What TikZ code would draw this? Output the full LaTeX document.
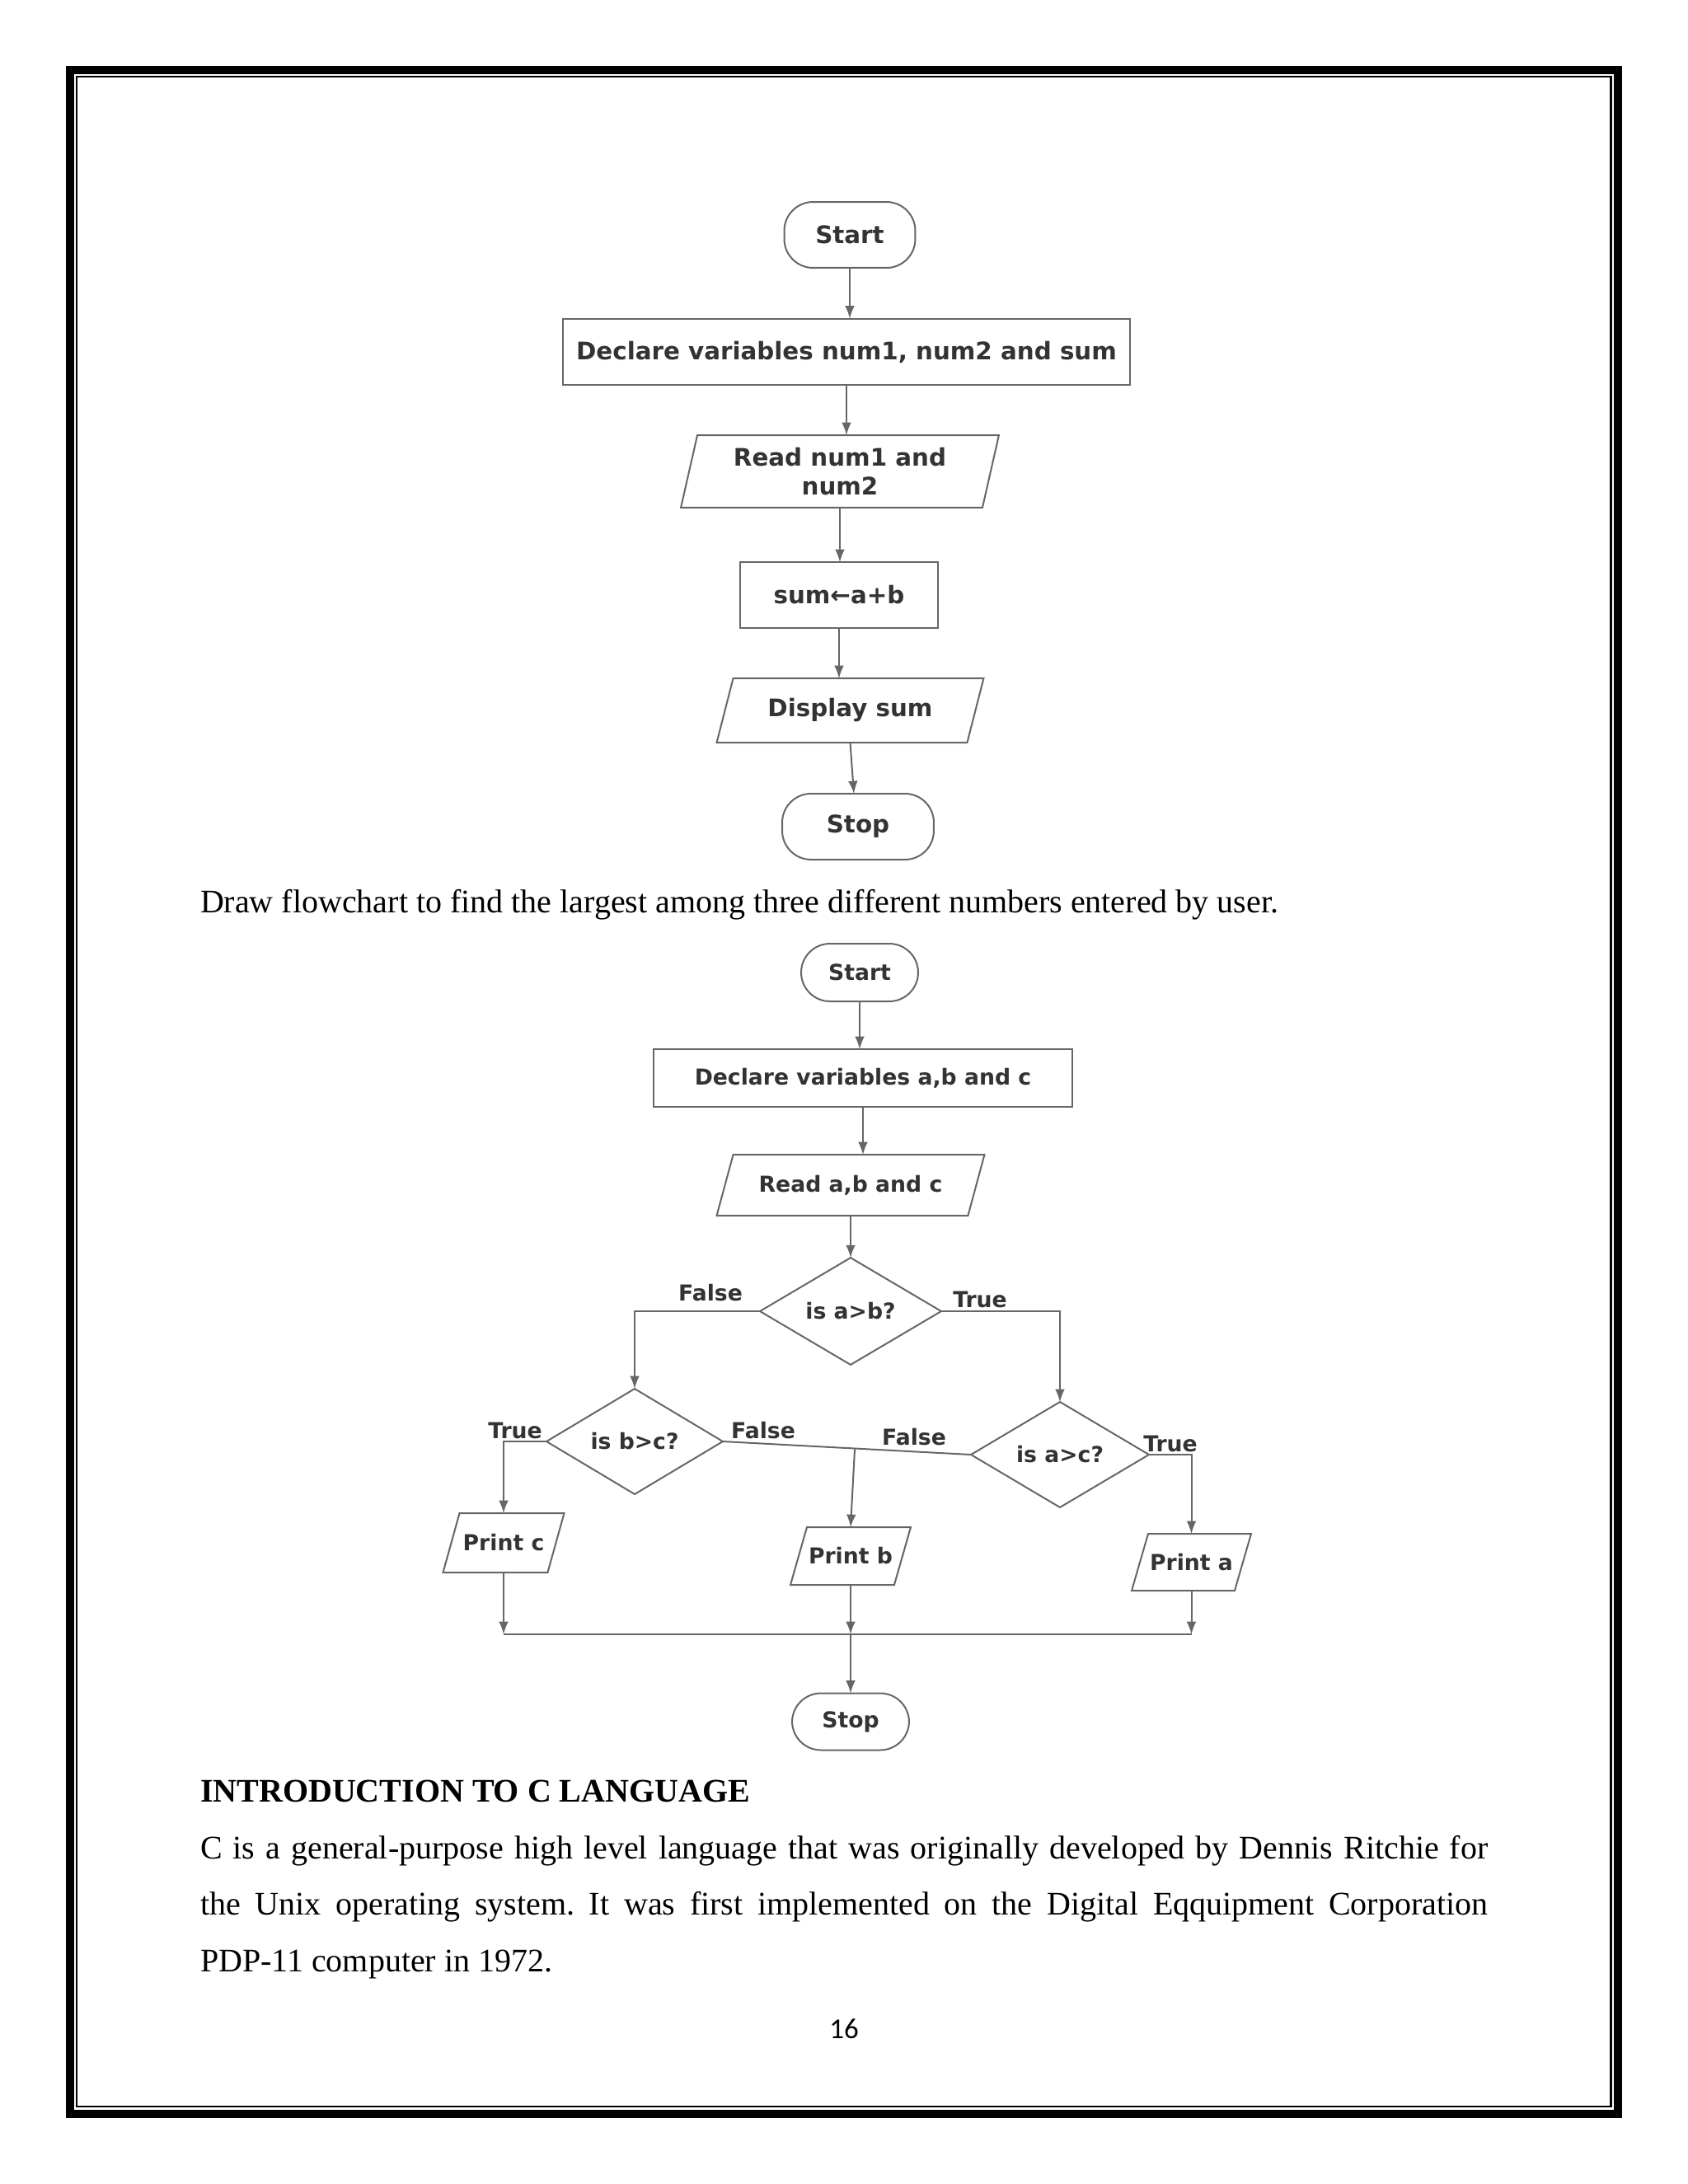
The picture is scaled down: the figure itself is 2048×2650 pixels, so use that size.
\documentclass[tikz,border=0pt]{standalone}
\usepackage{fontspec}
\setmainfont{Liberation Serif}
\newfontfamily\chartfont{DejaVu Sans}
\newfontfamily\pagenofont{Carlito}
\usetikzlibrary{shapes.geometric,calc}
\definecolor{linegray}{HTML}{666666}
\definecolor{chartgray}{HTML}{333333}
\newlength{\pxu}
\setlength{\pxu}{0.29988pt}
\frenchspacing

\begin{document}
\begin{tikzpicture}[>=latex, x=0.010542cm, y=-0.010542cm, line width=0.6pt,
    fcbox/.style={draw=linegray, text=chartgray, inner sep=0pt, outer sep=0pt, align=center},
    bigtxt/.style={font=\chartfont\bfseries\fontsize{8.8}{10.5}\selectfont},
    smalltxt/.style={font=\chartfont\bfseries\fontsize{8}{10}\selectfont},
    term/.style={fcbox, rectangle, rounded corners=10.5pt},
    proc/.style={fcbox, rectangle},
    io/.style={fcbox, rectangle, draw=none},
    cond/.style={fcbox, diamond},
    lbl/.style={text=chartgray, inner sep=0pt, smalltxt},
    conn/.style={draw=linegray, ->}]
    \useasboundingbox (0,0) rectangle (2048,2650);
    % page frame
    \draw[line width=3pt] (85,84.5) rectangle (1963,2565);
    \draw[line width=0.75pt] (93,93) rectangle (1954.5,2556);

    % flowchart: sum of two numbers
    \node[term, bigtxt, minimum width=159\pxu, minimum height=80\pxu] (start1) at (1031,285) {Start};
    \node[proc, bigtxt, minimum width=689\pxu, minimum height=81\pxu] (decl1) at (1027,427) {Declare variables num1, num2 and sum};
    \node[io, bigtxt, minimum width=366\pxu, minimum height=88\pxu] (read1) at (1019,572) {Read num1 and\\num2};
    \node[proc, bigtxt, minimum width=240\pxu, minimum height=80\pxu] (sum1) at (1018,722) {sum←a+b};
    \node[io, bigtxt, minimum width=304\pxu, minimum height=78\pxu] (disp1) at (1031.5,862) {Display sum};
    \node[term, bigtxt, minimum width=184\pxu, minimum height=80\pxu] (stop1) at (1041,1003) {Stop};
    \draw[conn] (start1) -- (start1 |- decl1.north);
    \draw[conn] (decl1) -- (decl1 |- read1.north);
    \draw[conn] (read1) -- (read1 |- sum1.north);
    \draw[conn] (sum1) -- (sum1 |- disp1.north);
    \draw[conn] (disp1.south) -- ([xshift=-5\pxu]stop1.north);

    \node[anchor=base west, inner sep=0pt, font=\fontsize{12}{14}\selectfont] (task) at (242,1107) {Draw flowchart to find the largest among three different numbers entered by user.};

    % flowchart: largest of three numbers
    \node[term, smalltxt, minimum width=142\pxu, minimum height=70\pxu] (start2) at (1043,1180) {Start};
    \node[proc, smalltxt, minimum width=509\pxu, minimum height=70\pxu] (decl2) at (1047,1308) {Declare variables a,b and c};
    \node[io, smalltxt, minimum width=305\pxu, minimum height=74\pxu] (read2) at (1032,1438) {Read a,b and c};
    \node[cond, smalltxt, minimum width=220\pxu, minimum height=128\pxu] (abc) at (1032,1591) {is a>b?};
    \node[cond, smalltxt, minimum width=214\pxu, minimum height=128\pxu] (bc) at (770,1749) {is b>c?};
    \node[cond, smalltxt, minimum width=216\pxu, minimum height=128\pxu] (ac) at (1286,1765) {is a>c?};
    \node[io, smalltxt, minimum width=127\pxu, minimum height=72\pxu] (pc) at (611,1872) {Print c};
    \node[io, smalltxt, minimum width=126\pxu, minimum height=70\pxu] (pb) at (1032,1888) {Print b};
    \node[io, smalltxt, minimum width=125\pxu, minimum height=69\pxu] (pa) at (1445.5,1895.5) {Print a};
    \node[term, smalltxt, minimum width=142\pxu, minimum height=69\pxu] (stop2) at (1032,2089) {Stop};
    \coordinate (join) at (1032,1983);

    % slanted input/output boxes
    \foreach \n in {read1,disp1,read2,pc,pb,pa}
        \draw[draw=linegray] ([xshift=10\pxu]\n.north west) -- ([xshift=10\pxu]\n.north east)
            -- ([xshift=-10\pxu]\n.south east) -- ([xshift=-10\pxu]\n.south west) -- cycle;

    \draw[conn] (start2) -- (start2 |- decl2.north);
    \draw[conn] (decl2) -- (decl2 |- read2.north);
    \draw[conn] (read2) -- (read2 |- abc.north);
    \draw[conn] (abc.west) -| (bc.north);
    \draw[conn] (abc.east) -| (ac.north);
    \draw[conn] (bc.west) -| (pc.north);
    \draw[conn] (ac.east) -| (pa.north);
    \draw[draw=linegray] (bc.east) -- (ac.west);
    \draw[conn] ($(bc.east)!(pb.north)!(ac.west)$) -- (pb.north);
    \draw[conn] (pc.south) -- (pc.south |- join);
    \draw[conn] (pb.south) -- (join);
    \draw[conn] (pa.south) -- (pa.south |- join);
    \draw[draw=linegray] (pc.south |- join) -- (pa.south |- join);
    \draw[conn] (join) -- (stop2.north);

    \node[lbl] (f1) at (862,1569) {False};
    \node[lbl] (t1) at (1189,1577) {True};
    \node[lbl] (t2) at (625,1736) {True};
    \node[lbl] (f2) at (926,1736) {False};
    \node[lbl] (f3) at (1109,1744) {False};
    \node[lbl] (t3) at (1420,1752) {True};

    % text below
    \node[anchor=base west, inner sep=0pt, font=\bfseries\fontsize{12}{14}\selectfont] (intro) at (242,2186) {INTRODUCTION TO C LANGUAGE};
    \node[anchor=base west, inner sep=0pt, font=\fontsize{12}{14}\selectfont] (para1) at (242,2255) {\makebox[1563\pxu][s]{C is a general-purpose high level language that was originally developed by Dennis Ritchie for}};
    \node[anchor=base west, inner sep=0pt, font=\fontsize{12}{14}\selectfont] (para2) at (242,2323) {\makebox[1563\pxu][s]{the Unix operating system. It was first implemented on the Digital Eqquipment Corporation}};
    \node[anchor=base west, inner sep=0pt, font=\fontsize{12}{14}\selectfont] (para3) at (242,2392) {PDP-11 computer in 1972.};
    \node[anchor=base, inner sep=0pt, font=\pagenofont\fontsize{10.5}{12}\selectfont] (pageno) at (1024,2473) {16};
\end{tikzpicture}
\end{document}
